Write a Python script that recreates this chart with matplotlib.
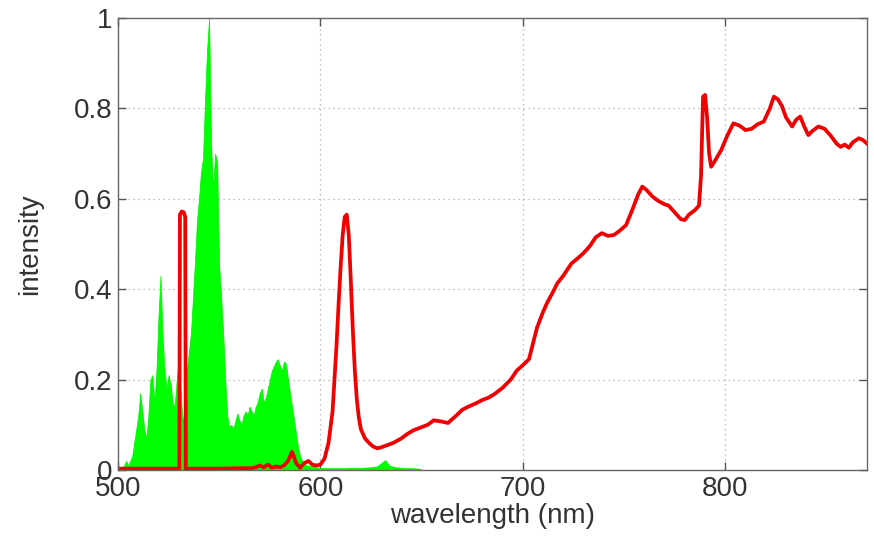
import numpy as np
import matplotlib
matplotlib.use("Agg")
import matplotlib.pyplot as plt

plt.rcParams['font.family'] = ['Liberation Sans', 'DejaVu Sans']

# green spectrum (filled), 1 nm steps 500..600, then sparse tail
green_nm = list(range(500, 601)) + [605, 610, 615, 620, 625, 628, 630, 632, 634, 637, 640, 645, 649, 650]
green_val = [
    0.0, 0.0, 0.005, 0.01, 0.02, 0.01, 0.02, 0.03, 0.06, 0.09,      # 500-509
    0.12, 0.17, 0.13, 0.09, 0.07, 0.12, 0.20, 0.21, 0.15, 0.22,     # 510-519
    0.34, 0.43, 0.30, 0.22, 0.18, 0.21, 0.19, 0.15, 0.14, 0.20,     # 520-529
    0.24, 0.17, 0.10, 0.15, 0.22, 0.26, 0.30, 0.38, 0.46, 0.55,     # 530-539
    0.60, 0.66, 0.69, 0.82, 0.93, 1.00, 0.72, 0.62, 0.70, 0.68,     # 540-549
    0.45, 0.38, 0.30, 0.20, 0.12, 0.095, 0.10, 0.09, 0.11, 0.125,   # 550-559
    0.11, 0.10, 0.12, 0.13, 0.12, 0.14, 0.13, 0.12, 0.14, 0.15,     # 560-569
    0.17, 0.18, 0.15, 0.16, 0.18, 0.20, 0.22, 0.23, 0.24, 0.245,    # 570-579
    0.23, 0.22, 0.24, 0.235, 0.20, 0.17, 0.14, 0.11, 0.08, 0.05,    # 580-589
    0.03, 0.02, 0.015, 0.01, 0.01, 0.008, 0.01, 0.008, 0.006, 0.005,  # 590-599
    0.005,                                                          # 600
    0.004, 0.004, 0.005, 0.005, 0.006, 0.008, 0.015, 0.022, 0.01, 0.006,
    0.005, 0.004, 0.003, 0.0]

# red spectrum (line)
red_nm = [500, 510, 520, 530.3, 530.6, 531.5, 532.5, 533.2, 533.5, 540, 550, 560, 566,
          568, 570, 572, 574, 576, 578, 580, 582, 584, 586, 588, 590, 592, 594, 596, 598,
          600, 602, 604, 606, 608, 609, 610, 611, 612, 613, 614, 615, 616, 617, 618, 619,
          620, 622, 624, 626, 628, 630, 633, 636, 640, 643, 646, 650, 653, 656, 660, 663,
          667, 670, 673, 677, 680, 683, 686, 690, 694, 697, 700, 703, 705, 707, 710, 712,
          715, 717, 720, 724, 727, 730, 733, 736, 739, 742, 745, 748, 751, 754, 757, 759,
          761, 764, 767, 770, 772, 775, 778, 780, 782, 785, 787, 788, 789, 790, 791, 792,
          793, 795, 798, 801, 804, 807, 810, 813, 816, 819, 822, 824, 826, 828, 830, 833,
          835, 837, 839, 841, 843, 846, 849, 852, 855, 857, 859, 861, 863, 866, 868, 870]
red_val = [0.003, 0.003, 0.003, 0.003, 0.565, 0.572, 0.57, 0.56, 0.003, 0.003, 0.003, 0.004, 0.004,
           0.006, 0.01, 0.006, 0.012, 0.005, 0.008, 0.006, 0.01, 0.02, 0.04, 0.015, 0.005, 0.015,
           0.02, 0.012, 0.01, 0.012, 0.025, 0.06, 0.13, 0.28, 0.37, 0.45, 0.52, 0.56, 0.565,
           0.52, 0.42, 0.31, 0.22, 0.155, 0.115, 0.09, 0.07, 0.06, 0.052, 0.048, 0.05, 0.055,
           0.06, 0.07, 0.08, 0.088, 0.095, 0.10, 0.11, 0.107, 0.104, 0.12, 0.133, 0.14, 0.148,
           0.155, 0.16, 0.168, 0.182, 0.20, 0.22, 0.232, 0.245, 0.28, 0.315, 0.35, 0.37, 0.395,
           0.413, 0.43, 0.457, 0.468, 0.48, 0.495, 0.515, 0.524, 0.518, 0.52, 0.53, 0.542,
           0.575, 0.61, 0.627, 0.62, 0.605, 0.595, 0.588, 0.585, 0.57, 0.555, 0.553, 0.565,
           0.575, 0.585, 0.65, 0.826, 0.83, 0.78, 0.70, 0.671, 0.685, 0.708, 0.74, 0.767,
           0.762, 0.752, 0.755, 0.765, 0.771, 0.80, 0.826, 0.82, 0.805, 0.78, 0.76, 0.775,
           0.782, 0.76, 0.741, 0.75, 0.76, 0.755, 0.74, 0.722, 0.715, 0.72, 0.713, 0.725,
           0.734, 0.73, 0.722]

xticks = [500, 600, 700, 800]
yticks = [0, 0.2, 0.4, 0.6, 0.8, 1]
ytick_labels = ['0', '0.2', '0.4', '0.6', '0.8', '1']

fig = plt.figure(figsize=(8.74, 5.38), dpi=100)
ax = fig.add_axes([0.135, 0.1264, 0.857, 0.8401])

ax.fill_between(green_nm, green_val, 0, color='#00ff00', linewidth=0.5, edgecolor='#00ee00')
ax.plot(red_nm, red_val, color='#f00000', linewidth=2.7, solid_joinstyle='round')

ax.set_xlim(500, 870)
ax.set_ylim(0, 1)
ax.set_xticks(xticks)
ax.set_yticks(yticks)
ax.set_yticklabels(ytick_labels)
ax.grid(True, linestyle=(0, (1, 3)), color='#aaaaaa', linewidth=0.9)
ax.set_axisbelow(True)

for s in ax.spines.values():
    s.set_color('#666666')
    s.set_linewidth(1.0)
ax.tick_params(direction='in', length=6, width=1, color='#555555',
               top=True, right=True, labelsize=20, labelcolor='#333333', pad=4)

ax.set_xlabel('wavelength (nm)', fontsize=20, color='#333333', labelpad=1)
ax.set_ylabel('intensity', fontsize=20, color='#333333', labelpad=22)

fig.savefig('out.png', dpi=100)
